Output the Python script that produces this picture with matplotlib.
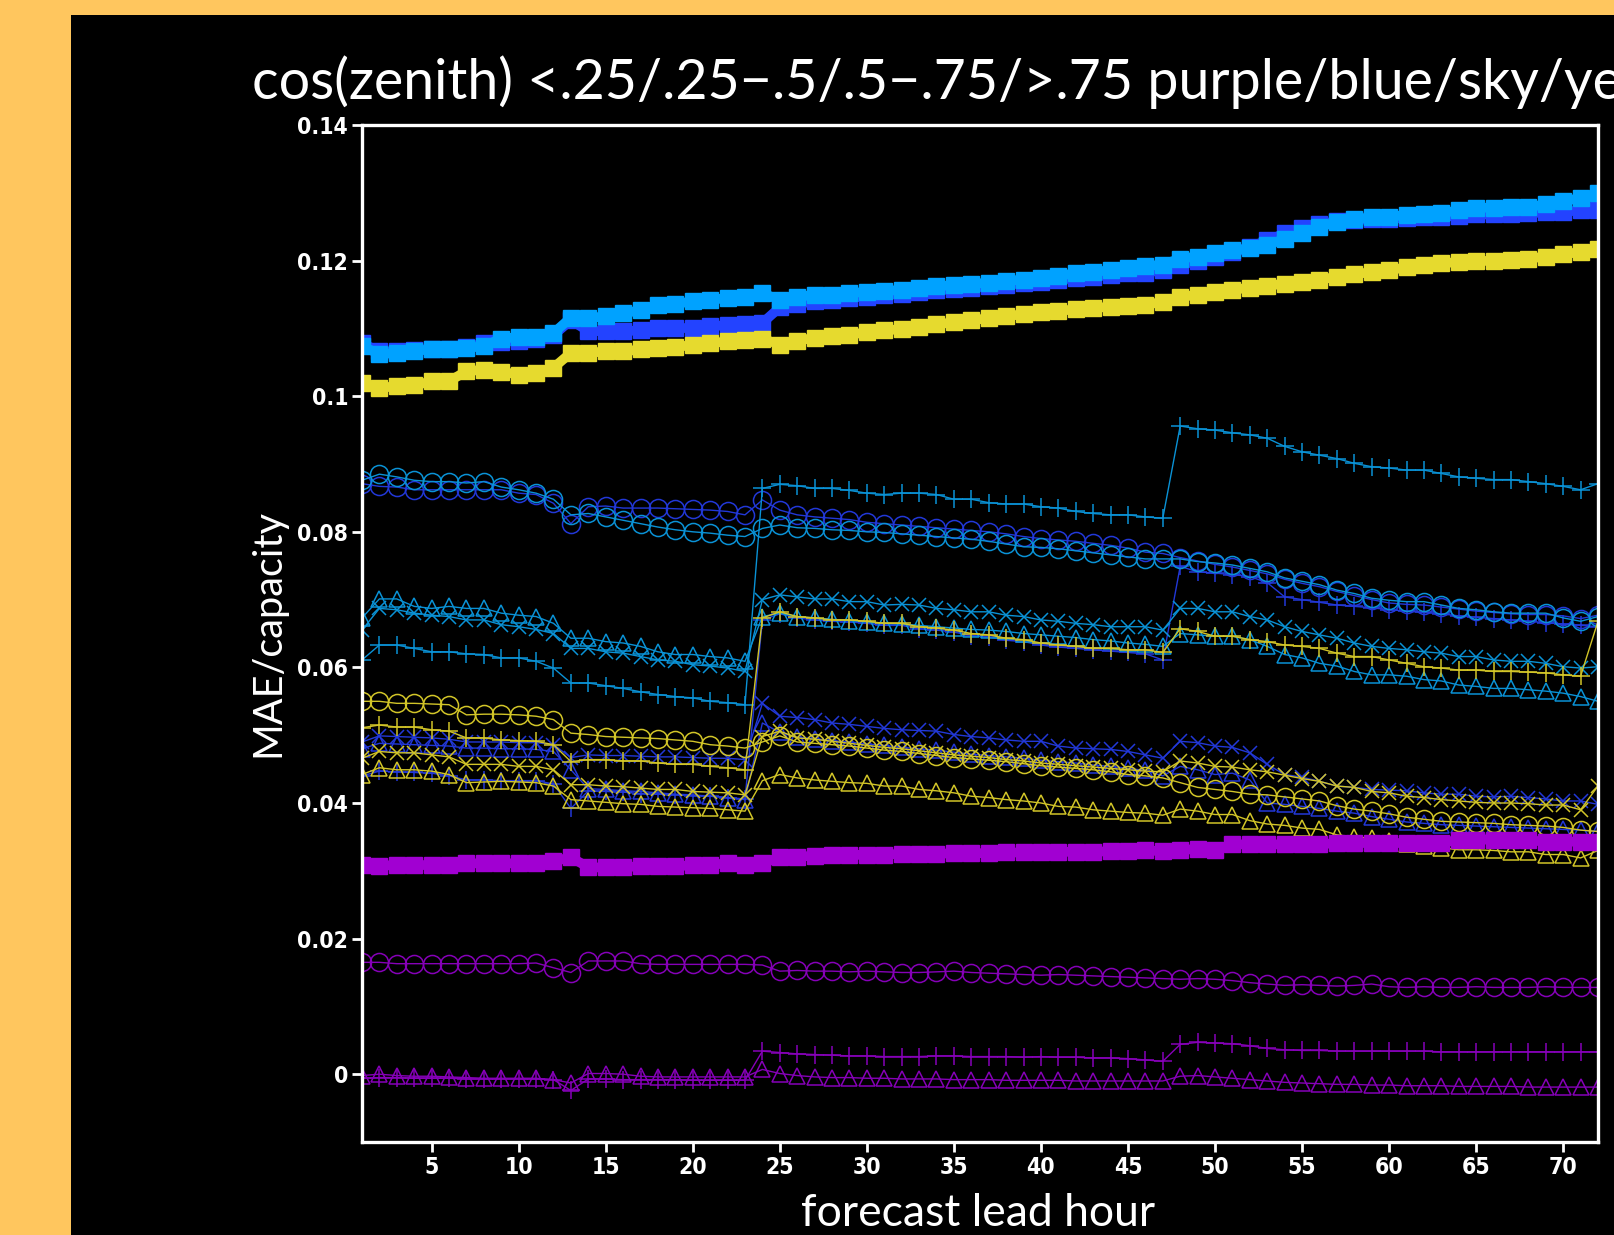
import numpy as np
import matplotlib.pyplot as plt
from matplotlib.patches import Rectangle

# forecast lead hours
hours = np.arange(1, 73)

# ---- filled squares ----
sq_pur = [.0309, .0307, .0309, .0309, .0308, .0309, .0311, .0311, .0311, .0311, .0311, .0314,
          .0320, .0305, .0305, .0305, .0307, .0307, .0307, .0308, .0309, .0311, .0309, .0311,
          .0320, .0321, .0322, .0323, .0323, .0324, .0324, .0325, .0325, .0325, .0326, .0326,
          .0326, .0327, .0327, .0327, .0328, .0328, .0328, .0329, .0329, .0330, .0329, .0331,
          .0332, .0331, .0339, .0339, .0339, .0339, .0339, .0339, .0341, .0341, .0341, .0341,
          .0341, .0341, .0341, .0346, .0346, .0346, .0346, .0345, .0343, .0343, .0343, .0343]
sq_blue = [.1078, .1066, .1066, .1068, .1070, .1070, .1072, .1078, .1080, .1082, .1085, .1090,
           .1112, .1096, .1096, .1096, .1097, .1100, .1100, .1101, .1103, .1105, .1106, .1108,
           .1131, .1136, .1140, .1142, .1145, .1147, .1149, .1151, .1153, .1156, .1158, .1160,
           .1162, .1164, .1167, .1169, .1172, .1174, .1176, .1179, .1181, .1182, .1186, .1193,
           .1200, .1205, .1212, .1220, .1230, .1240, .1248, .1254, .1258, .1260, .1261, .1262,
           .1263, .1264, .1265, .1266, .1268, .1268, .1269, .1270, .1271, .1272, .1274, .1275]
sq_sky = [.1074, .1062, .1064, .1067, .1069, .1069, .1071, .1074, .1085, .1087, .1087, .1093,
          .1116, .1115, .1118, .1122, .1127, .1134, .1136, .1140, .1142, .1145, .1147, .1152,
          .1142, .1146, .1150, .1150, .1152, .1154, .1155, .1157, .1160, .1162, .1164, .1166,
          .1167, .1170, .1172, .1175, .1178, .1181, .1183, .1186, .1189, .1192, .1194, .1203,
          .1206, .1211, .1215, .1218, .1223, .1232, .1240, .1250, .1257, .1261, .1264, .1265,
          .1267, .1268, .1270, .1274, .1278, .1278, .1279, .1279, .1283, .1288, .1292, .1299]
sq_yel = [.1020, .1012, .1015, .1016, .1022, .1022, .1037, .1039, .1036, .1032, .1034, .1042,
          .1064, .1064, .1066, .1066, .1069, .1071, .1072, .1076, .1078, .1081, .1083, .1085,
          .1076, .1082, .1086, .1089, .1091, .1094, .1097, .1099, .1102, .1106, .1109, .1112,
          .1115, .1118, .1121, .1124, .1126, .1128, .1130, .1132, .1133, .1135, .1139, .1146,
          .1150, .1153, .1157, .1160, .1163, .1166, .1169, .1172, .1176, .1180, .1183, .1186,
          .1190, .1194, .1196, .1198, .1199, .1200, .1201, .1203, .1206, .1209, .1213, .1217]

# ---- open circles ----
ci_pur = [.0165, .0165, .0163, .0163, .0163, .0163, .0163, .0163, .0163, .0163, .0164, .0157,
          .0150, .0167, .0167, .0167, .0163, .0162, .0162, .0162, .0162, .0162, .0162, .0161,
          .0152, .0153, .0152, .0152, .0151, .0152, .0151, .0150, .0150, .0151, .0152, .0150,
          .0149, .0148, .0147, .0146, .0147, .0146, .0145, .0144, .0143, .0142, .0141, .0140,
          .0141, .0140, .0138, .0135, .0133, .0131, .0132, .0131, .0130, .0131, .0133, .0129,
          .0128, .0129, .0128, .0128, .0129, .0128, .0128, .0128, .0129, .0128, .0128, .0128]
ci_blue = [.0871, .0867, .0866, .0862, .0862, .0862, .0862, .0862, .0862, .0857, .0855, .0842,
           .0812, .0837, .0838, .0835, .0835, .0835, .0834, .0833, .0832, .0830, .0825, .0847,
           .0832, .0825, .0822, .0820, .0818, .0814, .0812, .0810, .0808, .0806, .0804, .0802,
           .0800, .0797, .0793, .0790, .0788, .0786, .0783, .0780, .0776, .0770, .0768, .0762,
           .0757, .0752, .0748, .0743, .0738, .0730, .0724, .0719, .0712, .0706, .0700, .0695,
           .0693, .0692, .0689, .0686, .0683, .0681, .0679, .0678, .0678, .0676, .0672, .0677]
ci_sky = [.0876, .0885, .0881, .0876, .0874, .0874, .0872, .0874, .0866, .0862, .0857, .0848,
          .0825, .0827, .0822, .0817, .0812, .0807, .0803, .0800, .0798, .0795, .0793, .0805,
          .0810, .0806, .0805, .0803, .0802, .0800, .0799, .0797, .0795, .0793, .0791, .0789,
          .0786, .0782, .0778, .0777, .0775, .0772, .0769, .0766, .0763, .0760, .0760, .0760,
          .0756, .0754, .0751, .0746, .0741, .0732, .0727, .0722, .0714, .0709, .0702, .0699,
          .0697, .0697, .0692, .0687, .0685, .0682, .0680, .0680, .0680, .0673, .0668, .0675]
ci_yel = [.0550, .0550, .0547, .0547, .0546, .0545, .0530, .0531, .0531, .0530, .0528, .0523,
          .0503, .0501, .0498, .0497, .0496, .0495, .0493, .0491, .0486, .0484, .0481, .0490,
          .0499, .0490, .0488, .0486, .0484, .0481, .0478, .0476, .0473, .0470, .0467, .0465,
          .0463, .0461, .0458, .0455, .0453, .0451, .0449, .0446, .0442, .0440, .0437, .0430,
          .0423, .0420, .0417, .0413, .0412, .0409, .0406, .0403, .0396, .0391, .0388, .0384,
          .0379, .0376, .0373, .0372, .0371, .0370, .0368, .0367, .0366, .0364, .0360, .0358]

# ---- open triangles ----
tr_pur = [-.0002, .0000, -.0002, -.0003, -.0003, -.0004, -.0005, -.0006, -.0006, -.0006, -.0006, -.0008,
          -.0013, .0001, .0001, .0000, -.0003, -.0004, -.0004, -.0004, -.0004, -.0004, -.0004, .0007,
          .0001, -.0002, -.0004, -.0005, -.0005, -.0006, -.0006, -.0007, -.0007, -.0007, -.0008, -.0008,
          -.0008, -.0009, -.0009, -.0009, -.0009, -.0010, -.0010, -.0010, -.0010, -.0010, -.0010, -.0003,
          -.0002, -.0004, -.0006, -.0008, -.0010, -.0012, -.0013, -.0014, -.0015, -.0015, -.0016, -.0016,
          -.0017, -.0017, -.0017, -.0018, -.0018, -.0018, -.0018, -.0019, -.0019, -.0019, -.0019, -.0019]
tr_blue = [.0480, .0488, .0487, .0486, .0485, .0484, .0481, .0481, .0480, .0480, .0479, .0476,
           .0449, .0421, .0420, .0418, .0417, .0415, .0413, .0412, .0410, .0408, .0405, .0518,
           .0504, .0497, .0495, .0492, .0490, .0487, .0485, .0482, .0480, .0478, .0475, .0472,
           .0470, .0468, .0466, .0463, .0461, .0459, .0456, .0454, .0451, .0448, .0440, .0454,
           .0449, .0442, .0444, .0434, .0400, .0398, .0395, .0392, .0388, .0385, .0380, .0376,
           .0372, .0370, .0368, .0367, .0366, .0365, .0364, .0363, .0362, .0361, .0360, .0358]
tr_sky = [.0673, .0701, .0701, .0690, .0687, .0690, .0687, .0687, .0680, .0677, .0675, .0665,
          .0643, .0643, .0638, .0636, .0631, .0623, .0619, .0619, .0616, .0614, .0609, .0675,
          .0680, .0675, .0673, .0671, .0669, .0667, .0665, .0664, .0662, .0660, .0658, .0656,
          .0655, .0653, .0650, .0648, .0646, .0644, .0641, .0639, .0636, .0634, .0631, .0650,
          .0648, .0646, .0646, .0641, .0631, .0619, .0614, .0606, .0602, .0594, .0589, .0589,
          .0587, .0582, .0580, .0574, .0572, .0569, .0569, .0567, .0565, .0562, .0557, .0550]
tr_yel = [.0442, .0452, .0449, .0449, .0447, .0442, .0430, .0431, .0432, .0431, .0430, .0425,
          .0405, .0403, .0401, .0399, .0398, .0395, .0394, .0393, .0392, .0390, .0388, .0433,
          .0442, .0437, .0434, .0432, .0430, .0429, .0425, .0425, .0420, .0418, .0415, .0410,
          .0408, .0405, .0403, .0400, .0395, .0394, .0390, .0388, .0386, .0385, .0382, .0391,
          .0388, .0383, .0383, .0374, .0369, .0367, .0363, .0361, .0353, .0350, .0348, .0344,
          .0339, .0337, .0334, .0331, .0331, .0330, .0328, .0328, .0324, .0324, .0319, .0330]

# ---- plus ----
pl_pur = [-.0006, -.0005, -.0005, -.0006, -.0006, -.0006, -.0007, -.0007, -.0007, -.0007, -.0007, -.0008,
          -.0024, -.0007, -.0007, -.0008, -.0008, -.0008, -.0008, -.0009, -.0009, -.0009, -.0009, .0034,
          .0032, .0030, .0029, .0028, .0027, .0027, .0026, .0026, .0026, .0027, .0027, .0026,
          .0026, .0026, .0025, .0026, .0025, .0025, .0024, .0024, .0023, .0021, .0019, .0044,
          .0047, .0046, .0045, .0042, .0038, .0036, .0035, .0035, .0034, .0034, .0034, .0034,
          .0034, .0034, .0033, .0033, .0033, .0033, .0033, .0033, .0033, .0033, .0033, .0033]
pl_blue = [.0440, .0447, .0446, .0445, .0444, .0440, .0434, .0434, .0433, .0433, .0433, .0428,
           .0392, .0418, .0417, .0416, .0414, .0413, .0412, .0411, .0410, .0408, .0406, .0670,
           .0679, .0673, .0670, .0668, .0667, .0665, .0662, .0662, .0657, .0655, .0652, .0647,
           .0645, .0640, .0638, .0633, .0630, .0628, .0626, .0624, .0622, .0620, .0611, .0749,
           .0741, .0739, .0737, .0734, .0725, .0704, .0700, .0696, .0692, .0690, .0688, .0685,
           .0683, .0681, .0679, .0676, .0674, .0672, .0670, .0668, .0666, .0664, .0662, .0660]
pl_sky = [.0611, .0633, .0633, .0628, .0623, .0623, .0620, .0619, .0614, .0614, .0609, .0599,
          .0577, .0577, .0573, .0569, .0564, .0560, .0557, .0555, .0550, .0548, .0545, .0864,
          .0870, .0868, .0864, .0864, .0861, .0857, .0855, .0857, .0857, .0855, .0848, .0848,
          .0843, .0841, .0841, .0837, .0835, .0830, .0827, .0825, .0825, .0822, .0820, .0956,
          .0952, .0950, .0946, .0943, .0938, .0926, .0918, .0913, .0908, .0901, .0896, .0894,
          .0891, .0891, .0886, .0881, .0879, .0877, .0877, .0874, .0871, .0867, .0862, .0871]
pl_yel = [.0511, .0515, .0512, .0512, .0508, .0506, .0496, .0496, .0493, .0492, .0491, .0486,
          .0461, .0464, .0464, .0462, .0462, .0459, .0457, .0457, .0454, .0452, .0449, .0673,
          .0682, .0675, .0673, .0670, .0670, .0668, .0665, .0665, .0660, .0658, .0655, .0650,
          .0648, .0643, .0641, .0636, .0633, .0631, .0628, .0628, .0626, .0626, .0622, .0657,
          .0653, .0646, .0646, .0641, .0638, .0633, .0631, .0628, .0621, .0616, .0616, .0611,
          .0606, .0601, .0599, .0596, .0596, .0594, .0594, .0593, .0592, .0589, .0587, .0668]

# ---- x ----
x_blue = [.0490, .0499, .0498, .0497, .0496, .0494, .0490, .0490, .0490, .0489, .0489, .0486,
          .0467, .0471, .0470, .0470, .0469, .0468, .0468, .0467, .0466, .0466, .0464, .0547,
          .0528, .0526, .0523, .0518, .0516, .0513, .0510, .0508, .0507, .0506, .0501, .0498,
          .0496, .0493, .0491, .0491, .0484, .0481, .0480, .0479, .0476, .0471, .0466, .0491,
          .0489, .0484, .0482, .0474, .0457, .0442, .0438, .0432, .0425, .0423, .0420, .0419,
          .0418, .0415, .0413, .0413, .0410, .0409, .0410, .0408, .0406, .0403, .0403, .0398]
x_sky = [.0655, .0687, .0685, .0680, .0677, .0675, .0670, .0670, .0663, .0660, .0656, .0650,
         .0628, .0628, .0623, .0621, .0616, .0611, .0609, .0604, .0602, .0599, .0594, .0700,
         .0707, .0704, .0701, .0701, .0697, .0697, .0692, .0693, .0692, .0687, .0685, .0682,
         .0682, .0677, .0675, .0670, .0668, .0665, .0663, .0660, .0660, .0660, .0655, .0687,
         .0687, .0682, .0682, .0675, .0670, .0660, .0653, .0648, .0643, .0636, .0631, .0628,
         .0626, .0623, .0621, .0616, .0616, .0611, .0609, .0609, .0606, .0601, .0599, .0601]
x_yel = [.0466, .0476, .0474, .0474, .0471, .0468, .0457, .0457, .0457, .0454, .0454, .0449,
         .0427, .0427, .0425, .0424, .0422, .0420, .0420, .0417, .0416, .0415, .0412, .0498,
         .0506, .0496, .0494, .0491, .0488, .0485, .0482, .0480, .0477, .0474, .0471, .0469,
         .0467, .0464, .0462, .0459, .0457, .0455, .0453, .0451, .0449, .0447, .0446, .0462,
         .0459, .0454, .0453, .0449, .0446, .0441, .0436, .0432, .0425, .0423, .0417, .0415,
         .0410, .0408, .0405, .0403, .0401, .0400, .0400, .0399, .0397, .0397, .0390, .0425]

yticks = [0, 0.02, 0.04, 0.06, 0.08, 0.1, 0.12, 0.14]
ytick_labels = ['0', '0.02', '0.04', '0.06', '0.08', '0.1', '0.12', '0.14']
xticks = list(range(5, 71, 5))

# colours: (square colour, line colour)
cols = {
    'pur': ('#A100D2', '#8600B8'),
    'blue': ('#2343FF', '#2238D8'),
    'sky': ('#00A2FF', '#0A92D6'),
    'yel': ('#E6DA2E', '#D2C528'),
}

title_font = ['Lato', 'DejaVu Sans']

fig = plt.figure(figsize=(16.15, 12.35), dpi=100, facecolor='#FFC65E')
# black panel behind the plot
fig.patches.append(Rectangle((71 / 1615, 0), 1, 1 - 15 / 1235, transform=fig.transFigure,
                             facecolor='black', edgecolor='none', zorder=-5))

ax = fig.add_axes([362 / 1615, 1 - 1142 / 1235, 1236 / 1615, 1017 / 1235])
ax.set_facecolor('black')

series = [
    ('pur', sq_pur, ci_pur, tr_pur, pl_pur, None),
    ('blue', sq_blue, ci_blue, tr_blue, pl_blue, x_blue),
    ('sky', sq_sky, ci_sky, tr_sky, pl_sky, x_sky),
    ('yel', sq_yel, ci_yel, tr_yel, pl_yel, x_yel),
]

for key, sq, ci, tr, pl, xx in series:
    sc, lc = cols[key]
    ax.plot(hours, ci, color=lc, lw=1.0, marker='o', ms=13, mfc='none', mec=lc, mew=1.1)
    ax.plot(hours, tr, color=lc, lw=1.0, marker='^', ms=11.5, mfc='none', mec=lc, mew=1.1)
    ax.plot(hours, pl, color=lc, lw=1.0, marker='+', ms=13.5, mec=lc, mew=1.1)
    if xx is not None:
        ax.plot(hours, xx, color=lc, lw=1.0, marker='x', ms=10, mec=lc, mew=1.1)

for key, sq, ci, tr, pl, xx in series:
    sc, lc = cols[key]
    ax.plot(hours, sq, color=sc, lw=7, marker='s', ms=11.5, mfc=sc, mec=sc,
            solid_joinstyle='miter')

ax.set_xlim(1, 72)
ax.set_ylim(-0.01, 0.14)
ax.set_xticks(xticks)
ax.set_xticklabels([str(t) for t in xticks])
ax.set_yticks(yticks)
ax.set_yticklabels(ytick_labels)

for s in ax.spines.values():
    s.set_color('white')
    s.set_linewidth(2.4)

ax.tick_params(colors='white', width=2, length=7, direction='out', pad=3)
for lab in ax.get_xticklabels() + ax.get_yticklabels():
    lab.set_family('DejaVu Sans')
    lab.set_stretch('condensed')
    lab.set_fontweight('bold')
    lab.set_fontsize(16.5)
    lab.set_color('white')

# title runs past the right edge, as in the original
fig.text(252 / 1615, 1 - 99 / 1235,
         'cos(zenith) <.25/.25\u2212.5/.5\u2212.75/>.75 purple/blue/sky/yellow',
         family=title_font, fontweight='normal', fontsize=40, color='white',
         ha='left', va='baseline')
fig.text(268 / 1615, 1 - 633 / 1235, 'MAE/capacity', family=title_font,
         fontweight='normal', fontsize=28.5, color='white', rotation=90,
         ha='center', va='center')
fig.text(978 / 1615, 1 - 1213 / 1235, 'forecast lead hour', family=title_font,
         fontweight='normal', fontsize=32, color='white', ha='center', va='center')

plt.savefig('out.png', dpi=100, facecolor=fig.get_facecolor())
